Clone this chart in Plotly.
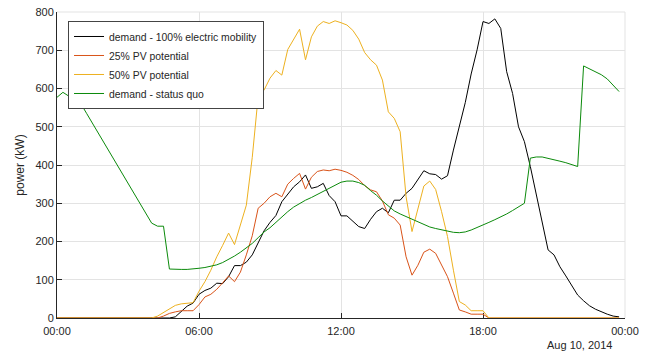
import pandas as pd
import plotly.graph_objects as go

# 15-minute time stamps, 00:00 .. 23:45
times = pd.date_range("2014-08-10 00:00", periods=96, freq="15min")

demand_ev = [
    0, 0, 0, 0, 0, 0, 0, 0, 0, 0, 0, 0, 0, 0, 0, 0,
    0, 0, 0, 0, 3, 17, 31, 39, 62, 72, 78, 91, 90, 108, 137, 137,
    146, 165, 195, 228, 250, 268, 304, 322, 343, 356, 374, 339, 343, 352, 320, 304,
    267, 267, 252, 239, 234, 258, 278, 287, 275, 308, 308, 326, 339, 361, 385, 377,
    375, 363, 372, 439, 505, 563, 638, 701, 775, 770, 782, 757, 644, 587, 500, 461,
    396, 326, 256, 178, 165, 134, 110, 86, 60, 45, 32, 23, 16, 10, 5, 3,
]

pv_25 = [
    0, 0, 0, 0, 0, 0, 0, 0, 0, 0, 0, 0, 0, 0, 0, 0,
    0, 0, 5, 12, 16, 19, 19, 19, 35, 55, 62, 75, 92, 110, 95, 120,
    165, 215, 287, 300, 317, 326, 317, 350, 365, 378, 337, 368, 383, 387, 385, 389,
    386, 381, 373, 362, 346, 335, 330, 306, 270, 261, 243, 160, 112, 138, 172, 180,
    169, 139, 108, 65, 21, 16, 10, 10, 10, 0, 0, 0, 0, 0, 0, 0,
    0, 0, 0, 0, 0, 0, 0, 0, 0, 0, 0, 0, 0, 0, 0, 0,
]

pv_50 = [
    0, 0, 0, 0, 0, 0, 0, 0, 0, 0, 0, 0, 0, 0, 0, 0,
    0, 5, 15, 25, 33, 37, 39, 40, 70, 95, 125, 160, 190, 222, 192, 245,
    295, 420, 579, 596, 627, 647, 635, 702, 729, 755, 675, 735, 763, 775, 770, 777,
    772, 766, 752, 729, 694, 675, 661, 622, 539, 522, 487, 317, 226, 282, 345, 358,
    336, 278, 213, 125, 43, 34, 19, 19, 19, 0, 0, 0, 0, 0, 0, 0,
    0, 0, 0, 0, 0, 0, 0, 0, 0, 0, 0, 0, 0, 0, 0, 0,
]

demand_sq = [
    577, 590, 580, 571, 561, 535, 509, 483, 457, 431, 404, 378, 352, 326, 300, 274,
    248, 240, 240, 128, 127, 127, 127, 128, 130, 132, 135, 139, 145, 153, 162, 172,
    183, 195, 210, 225, 236, 250, 265, 278, 290, 300, 308, 315, 323, 332, 341, 349,
    355, 358, 358, 354, 347, 333, 321, 306, 292, 280, 272, 265, 258, 251, 243, 238,
    234, 230, 226, 224, 223, 225, 230, 236, 243, 250, 257, 264, 272, 281, 290, 300,
    418, 421, 421, 418, 414, 410, 406, 401, 396, 659, 652, 645, 636, 625, 608, 592,
]

series_names = ["demand - 100% electric mobility", "25% PV potential",
                "50% PV potential", "demand - status quo"]
series_values = [demand_ev, pv_25, pv_50, demand_sq]
series_colors = ["#000000", "#D95319", "#EDB120", "#0B8A0B"]

tick_vals = pd.date_range("2014-08-10 00:00", periods=5, freq="6h")
tick_text = ["00:00", "06:00", "12:00", "18:00", "00:00"]
date_label = "Aug 10, 2014"

FONT = "Liberation Sans, Arial, Helvetica, sans-serif"
TXT = "#262626"
GRID = "#E3E3E3"

fig = go.Figure()
for name, vals, col in zip(series_names, series_values, series_colors):
    fig.add_trace(go.Scatter(x=times, y=vals, mode="lines", name=name,
                             line=dict(color=col, width=1)))

# the page body has an 8px margin, so the figure is 8px smaller than the window
fig.update_layout(
    width=643, height=345,
    margin=dict(l=49, r=26, t=4, b=35, autoexpand=False),
    paper_bgcolor="white", plot_bgcolor="white",
    font=dict(family=FONT, size=11, color=TXT),
    showlegend=True,
    legend=dict(x=0.0194, y=0.9706, xanchor="left", yanchor="top",
                bgcolor="white", bordercolor="#444444", borderwidth=1,
                font=dict(size=10.4, color=TXT), traceorder="normal",
                itemwidth=30),
    xaxis=dict(range=[tick_vals[0], tick_vals[-1]], tickvals=tick_vals,
               ticktext=tick_text, ticks="inside", ticklen=5, tickcolor=TXT,
               showline=True, linecolor=TXT, linewidth=1,
               showgrid=True, gridcolor=GRID, gridwidth=1,
               zeroline=False, layer="below traces", ticklabelstandoff=3,
               ticklabeloverflow="allow",
               tickfont=dict(size=11, color=TXT)),
    yaxis=dict(range=[0, 800], tickvals=list(range(0, 801, 100)),
               ticks="inside", ticklen=5, tickcolor=TXT,
               showline=True, linecolor=TXT, linewidth=1,
               showgrid=True, gridcolor=GRID, gridwidth=1,
               zeroline=False, layer="below traces", ticklabeloverflow="allow",
               title=dict(text="power (kW)", font=dict(size=12, color=TXT), standoff=8),
               tickfont=dict(size=11, color=TXT)),
    shapes=[
        dict(type="line", xref="paper", yref="paper", x0=0, x1=1, y0=1, y1=1,
             line=dict(color=GRID, width=1), layer="below"),
        dict(type="line", xref="paper", yref="paper", x0=1, x1=1, y0=0, y1=1,
             line=dict(color=GRID, width=1), layer="below"),
    ],
    annotations=[dict(text=date_label, xref="paper", yref="paper",
                      x=0.9806, y=-0.088, xanchor="right", yanchor="middle",
                      showarrow=False, font=dict(size=11, color=TXT))],
)

fig.write_html("out.html")
